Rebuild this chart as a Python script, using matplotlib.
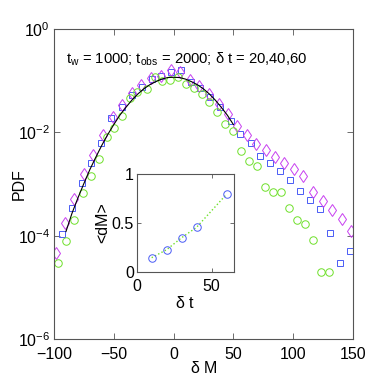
import numpy as np
import matplotlib
matplotlib.use("Agg")
import matplotlib.pyplot as plt
from matplotlib import font_manager

names = {f.name for f in font_manager.fontManager.ttflist}
fam = [f for f in ["Liberation Sans Narrow", "Liberation Sans", "DejaVu Sans"] if f in names]
plt.rcParams['font.family'] = fam
plt.rcParams['mathtext.fontset'] = 'custom'
plt.rcParams['mathtext.rm'] = fam[0]
plt.rcParams['mathtext.it'] = fam[0]
plt.rcParams['mathtext.default'] = 'regular'

FS = 11.5

# ---- data (delta M, log10 PDF) ----
sq_dM = [-93.1, -84.9, -76.8, -68.8, -60.7, -52.5, -43.3, -35.0, -26.6, -18.4, -10.2, -2.1, 6.3,
         14.4, 22.2, 30.6, 38.9, 47.7, 55.9, 64.3, 72.2, 80.5, 88.9, 97.1, 105.3, 113.7, 122.1,
         130.4, 138.8, 147.2]
sq_logpdf = [-3.96, -3.47, -2.98, -2.60, -2.20, -1.72, -1.50, -1.28, -1.12, -0.96, -0.91, -0.83, -0.79,
             -1.02, -1.15, -1.32, -1.51, -1.79, -2.03, -2.20, -2.46, -2.60, -2.74, -2.93, -3.13, -3.31,
             -3.48, -3.95, -4.52, -4.29]

di_dM = [-98.6, -91.0, -83.0, -75.1, -67.1, -58.7, -51.0, -43.1, -35.1, -27.2, -18.8, -10.7, -2.5,
         5.5, 13.3, 21.4, 29.7, 37.9, 45.2, 53.2, 61.0, 69.1, 77.0, 84.8, 92.5, 100.3, 108.4, 116.5,
         124.6, 132.5, 140.5, 148.3]
di_logpdf = [-4.34, -3.75, -3.30, -2.81, -2.44, -2.05, -1.70, -1.47, -1.24, -1.08, -0.95, -0.91, -0.80,
             -0.84, -0.99, -1.10, -1.26, -1.45, -1.65, -1.88, -2.06, -2.22, -2.35, -2.47, -2.60, -2.71,
             -2.84, -3.15, -3.33, -3.50, -3.67, -3.91]

ci_dM = [-96.4, -90.2, -83.0, -76.0, -69.3, -62.6, -56.1, -49.5, -42.8, -36.8, -30.3, -22.6, -15.5,
         -9.6, -3.3, 4.0, 10.5, 17.2, 23.9, 29.3, 36.2, 43.1, 49.6, 56.4, 63.4, 69.9, 76.4, 83.1,
         89.7, 96.5, 103.2, 109.6, 116.2, 123.2, 129.6]
ci_logpdf = [-4.52, -4.11, -3.70, -3.17, -2.84, -2.51, -2.09, -1.91, -1.69, -1.33, -1.22, -1.17, -0.92,
             -1.01, -0.99, -0.93, -1.06, -1.15, -1.26, -1.41, -1.60, -1.83, -1.98, -2.37, -2.56, -2.65,
             -3.06, -3.15, -3.16, -3.47, -3.70, -3.77, -4.09, -4.70, -4.70]

fit_dM = [-90, -85, -80, -75, -70, -65, -60, -55, -50, -45, -40, -35, -30, -25, -20, -15, -10, -5,
          0, 5, 10, 15, 20, 25, 30, 35, 40, 45, 50]
fit_logpdf = [-3.92, -3.57, -3.27, -2.99, -2.72, -2.48, -2.25, -2.04, -1.85, -1.67, -1.52, -1.38,
              -1.26, -1.16, -1.08, -1.02, -0.97, -0.94, -0.934, -0.94, -0.97, -1.02, -1.08, -1.16,
              -1.26, -1.38, -1.52, -1.67, -1.85]

inset_dt = [10, 20, 30, 40, 60]
inset_dM = [0.144, 0.226, 0.349, 0.456, 0.795]

xticks = [-100, -50, 0, 50, 100, 150]
yticks = [1e-6, 1e-4, 1e-2, 1e0]

c_blue = '#4a5cf5'
c_mag = '#c840f0'
c_green = '#6ee02a'
frame = '#555555'

fig = plt.figure(figsize=(3.9, 3.9), dpi=100)
ax = fig.add_axes([54/390, 1-339/390, 299/390, 310/390])

ax.plot(fit_dM, 10**np.array(fit_logpdf), color='k', lw=0.8, zorder=3)
ax.plot(sq_dM, 10**np.array(sq_logpdf), ls='none', marker='s', ms=4.6, mfc='none', mec=c_blue, mew=0.7)
ax.plot(di_dM, 10**np.array(di_logpdf), ls='none', marker='d', ms=6.3, mfc='none', mec=c_mag, mew=0.7)
ax.plot(ci_dM, 10**np.array(ci_logpdf), ls='none', marker='o', ms=5.4, mfc='none', mec=c_green, mew=0.7)

ax.set_yscale('log')
ax.set_xlim(-100, 150)
ax.set_ylim(1e-6, 1e0)
ax.set_xticks(xticks)
ax.set_xticklabels([str(t).replace('-', '\u2212') for t in xticks])
ax.set_yticks(yticks)
ax.yaxis.set_minor_locator(matplotlib.ticker.NullLocator())
ax.tick_params(direction='in', top=True, right=True, length=4, width=0.6, color=frame,
               labelsize=FS)
ax.tick_params(axis='x', pad=6)
ax.tick_params(axis='y', pad=3)
for s in ax.spines.values():
    s.set_color(frame)
    s.set_linewidth(0.8)
ax.set_xlabel(r'$\delta$ M', fontsize=FS, labelpad=-2)
ax.set_ylabel('PDF', fontsize=FS)
ax.yaxis.set_label_coords(-0.09, 0.5)

ax.text(0.04, 0.888, r'$t_w$ = 1000; $t_{obs}$ = 2000; $\delta$ t = 20,40,60',
        transform=ax.transAxes, fontsize=10.6, va='baseline', ha='left')

# inset
ax2 = fig.add_axes([136.7/390, 1-271.7/390, 97.3/390, 97.4/390])
ax2.plot(inset_dt, inset_dM, ls=':', color=c_green, lw=1.0)
ax2.plot(inset_dt, inset_dM, ls='none', marker='o', ms=5.4, mfc='none', mec=c_blue, mew=0.7)
ax2.set_xlim(0, 65)
ax2.set_ylim(0, 1)
ax2.set_xticks([0, 50])
ax2.set_yticks([0, 0.5, 1])
ax2.set_yticklabels(['0', '0.5', '1'])
ax2.tick_params(direction='in', top=True, right=True, length=3, width=0.6, color=frame,
                labelsize=FS, pad=2)
ax2.tick_params(axis='x', pad=5)
for s in ax2.spines.values():
    s.set_color(frame)
    s.set_linewidth(0.8)
ax2.set_xlabel(r'$\delta$ t', fontsize=FS, labelpad=1)
ax2.set_ylabel('<dM>', fontsize=FS, labelpad=1)

fig.savefig('out.png', dpi=100)
